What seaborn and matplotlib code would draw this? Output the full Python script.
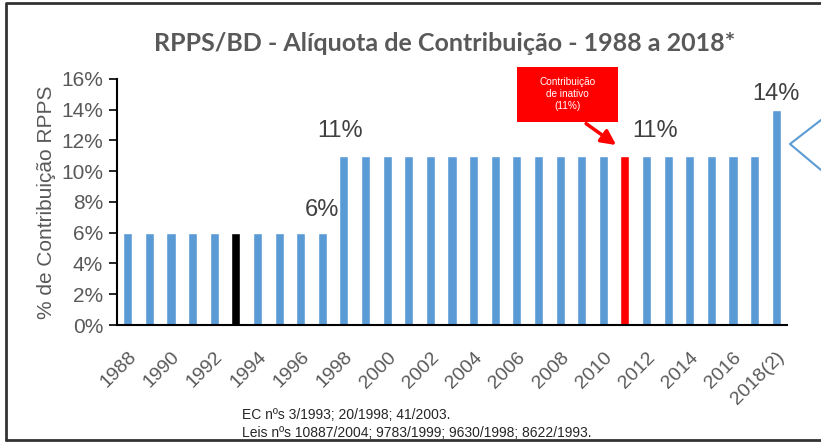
import matplotlib
matplotlib.use('Agg')
import matplotlib.pyplot as plt
import seaborn as sns
import pandas as pd
from matplotlib.patches import Rectangle
from matplotlib.lines import Line2D

# dados
anos = [str(a) for a in range(1988, 2018)] + ['2018(2)']
aliquota = [6] * 10 + [11] * 20 + [14]
cores = ['#5B9BD5'] * len(anos)
cores[anos.index('1993')] = '#000000'
cores[anos.index('2011')] = '#FF0000'

rotulos = [('6%', 9.0, 7.5), ('11%', 9.8, 12.6), ('11%', 24.4, 12.6), ('14%', 30.0, 15.0)]
titulo = 'RPPS/BD - Alíquota de Contribuição - 1988 a 2018*'
notas = ['EC nºs 3/1993; 20/1998; 41/2003.',
         'Leis nºs 10887/2004; 9783/1999; 9630/1998; 8622/1993.']

sns.set_style('white')
plt.rcParams['font.family'] = ['Liberation Sans', 'DejaVu Sans']
cinza = '#595959'

df = pd.DataFrame({'Ano': anos, 'Aliquota': aliquota})

fig = plt.figure(figsize=(8.21, 4.42), dpi=100)
ax = fig.add_axes([0.1425, 0.2647, 0.8161, 0.5566])

sns.barplot(data=df, x='Ano', y='Aliquota', hue='Ano', palette=cores,
            legend=False, width=0.42, saturation=1, ax=ax)

ax.set_ylim(0, 16)
ax.set_xlim(-0.5, len(anos) - 0.5)
ax.set_yticks(range(0, 17, 2))
ax.set_yticklabels([f'{v}%' for v in range(0, 17, 2)], fontsize=15, color=cinza)
ax.set_xticks(range(0, len(anos), 2))
ax.set_xticklabels(anos[::2], fontsize=14, color=cinza, rotation=45,
                   ha='right', rotation_mode='anchor')
ax.tick_params(axis='y', length=6, width=1.2, color='black', pad=4, left=True)
ax.tick_params(axis='x', length=0, pad=17)
ax.set_xlabel('')
ax.set_ylabel('% de Contribuição RPPS', fontsize=15, color=cinza, labelpad=4)
for s in ['top', 'right']:
    ax.spines[s].set_visible(False)
for s in ['left', 'bottom']:
    ax.spines[s].set_color('black')
    ax.spines[s].set_linewidth(1.5)

for txt, x, y in rotulos:
    ax.text(x, y, txt, fontsize=17, color='#404040', ha='center', va='center')

# caixa vermelha
ax.add_patch(Rectangle((18.0, 13.2), 4.7, 3.6, facecolor='#FF0000',
                       edgecolor='none', clip_on=False, zorder=5))
ax.text(20.35, 15.0, 'Contribuição\nde inativo\n(11%)', fontsize=7.2, color='white',
        ha='center', va='center', linespacing=1.25, zorder=6, clip_on=False)
ax.annotate('', xy=(22.7, 11.6), xytext=(21.1, 13.2),
            arrowprops=dict(arrowstyle='-|>', color='#FF0000', lw=2.5,
                            mutation_scale=22), annotation_clip=False, zorder=6)

fig.text(0.542, 0.902, titulo, fontsize=18, fontweight='bold', color=cinza,
         ha='center', va='center', family=['Lato', 'DejaVu Sans'])

fig.text(0.295, 0.061, notas[0], fontsize=10, ha='left', va='center')
fig.text(0.295, 0.020, notas[1], fontsize=10, ha='left', va='center')

# moldura
W, H = 821, 442
fig.add_artist(Line2D([6 / W, 6 / W, 1.0], [1 - 440 / H, 1 - 3 / H, 1 - 3 / H],
                      color='#333333', lw=2.0))
fig.add_artist(Line2D([6 / W, 1.0], [1 - 440 / H, 1 - 440 / H], color='#333333', lw=2.0))
# balão à direita
fig.add_artist(Line2D([1.0, 790 / W, 1.0], [1 - 120 / H, 1 - 144 / H, 1 - 170 / H],
                      color='#5B9BD5', lw=1.5))

fig.savefig('out.png', dpi=100)
